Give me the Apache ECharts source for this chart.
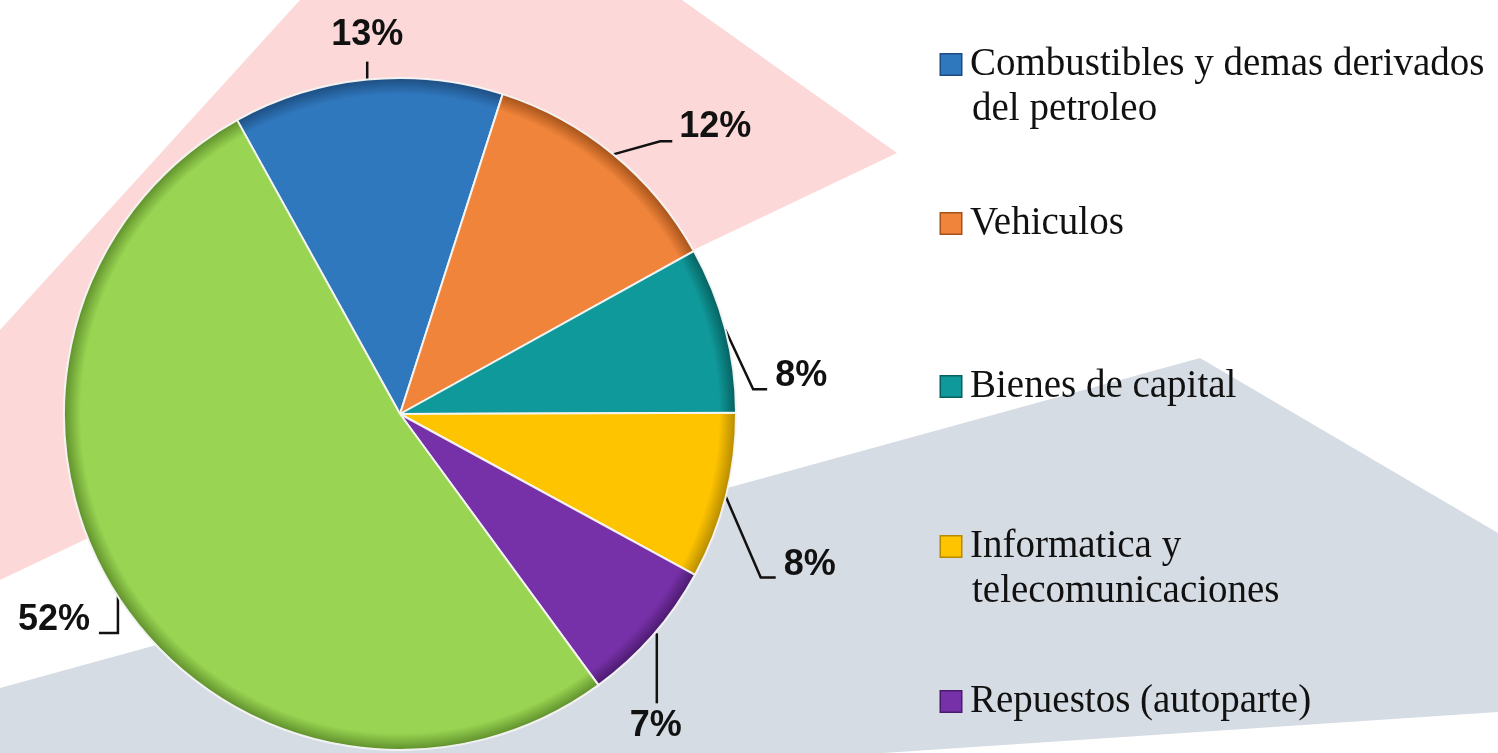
<!DOCTYPE html>
<html>
<head>
<meta charset="utf-8">
<script src="https://cdn.jsdelivr.net/npm/echarts@6/dist/echarts.min.js"></script>
<style>
  html, body { margin: 0; padding: 0; background: #fff; }
  #chart { width: 1498px; height: 753px; }
</style>
</head>
<body>
<div id="chart"></div>
<script>
// data
const categories = [
  'Combustibles y demas derivados\ndel petroleo',
  'Vehiculos',
  'Bienes de capital',
  'Informatica y\ntelecomunicaciones',
  'Repuestos (autoparte)',
  'Otros'
];
const shares = [13, 12, 8, 8, 7, 52];
const legendNames = categories.slice(0, 5);

const colors = ['#3078be', '#f0843a', '#10999a', '#fec400', '#7731a8', '#99d552'];
const darks = ['#1d4d80', '#a4521b', '#06605f', '#b58a00', '#4a1a6d', '#5f8f2c'];

// label line geometry, relative to the slice anchor on the rim
// [start dx, start dy, elbow dx, elbow dy, end dx, end dy, text dx, text dy, align]
const labelGeo = [
  [0, 0, 0, -18, 0, -18, 0, -45, 'center'],
  [0, 0, 47, -13, 59, -13, 66, -27, 'left'],
  [0, 0, 28, 60, 42, 60, 50, 47, 'left'],
  [0, 0, 35, 81, 50, 81, 58, 69, 'left'],
  [4, -2, 4, 68, 4, 68, 3, 91, 'center'],
  [1, 0, 1, 38, -18, 38, -27, 25, 'right']
];

const cx = 400, cy = 414, R = 336;

const chart = echarts.init(document.getElementById('chart'));

const rich = {
  s: { width: 22, height: 22 },
  t: { fontFamily: '"Liberation Serif", "Times New Roman", serif', fontSize: 39, color: '#111', lineHeight: 45, padding: [0, 0, 0, 9] }
};
colors.forEach((c, i) => {
  rich['m' + i] = {
    width: 20, height: 20, backgroundColor: c,
    borderColor: darks[i], borderWidth: 1.5
  };
});

const legendTops = [45, 204, 367, 527, 682];

chart.setOption({
  backgroundColor: '#ffffff',
  graphic: [
    {
      type: 'polygon', z: -10, silent: true,
      shape: { points: [[300, 0], [682, 0], [897, 153], [0, 580], [0, 330]] },
      style: { fill: '#fcd8d9' }
    },
    {
      type: 'polygon', z: -10, silent: true,
      shape: { points: [[0, 688], [1200, 358], [1498, 533], [1498, 712], [0, 812]] },
      style: { fill: '#d6dce4' }
    }
  ],
  legend: legendNames.map((name, i) => ({
    data: [name],
    orient: 'vertical',
    left: 936,
    top: legendTops[i],
    padding: 0,
    icon: 'none',
    itemWidth: 0,
    itemHeight: 0,
    selectedMode: false,
    formatter: n => {
      const k = categories.indexOf(n);
      const lines = n.split('\n');
      let s = '{m' + k + '|}{t|' + lines[0] + '}';
      if (lines[1]) s += '\n{s|}{t|' + lines[1] + '}';
      return s;
    },
    textStyle: { rich: rich }
  })),
  series: [{
    type: 'pie',
    center: [cx, cy],
    radius: R,
    startAngle: 119,
    clockwise: true,
    avoidLabelOverlap: false,
    animation: false,
    data: categories.map((name, i) => ({
      name: name,
      value: shares[i],
      itemStyle: {
        color: {
          type: 'radial', x: cx, y: cy, r: R, global: true,
          colorStops: [
            { offset: 0, color: colors[i] },
            { offset: 0.95, color: colors[i] },
            { offset: 1, color: darks[i] }
          ]
        }
      }
    })),
    itemStyle: {
      borderColor: 'rgba(245,245,245,0.95)',
      borderWidth: 2
    },
    label: {
      show: true,
      position: 'outside',
      formatter: p => Math.round(p.percent) + '%',
      fontFamily: '"Liberation Sans", Arial, sans-serif',
      fontWeight: 'bold',
      fontSize: 36,
      color: '#111'
    },
    labelLine: {
      show: true,
      length: 20,
      length2: 10,
      lineStyle: { color: '#111', width: 2.5 }
    },
    labelLayout: params => {
      const g = labelGeo[params.dataIndex];
      const p0 = params.labelLinePoints[0];
      return {
        x: p0[0] + g[6],
        y: p0[1] + g[7],
        align: g[8],
        verticalAlign: 'middle',
        labelLinePoints: [
          [p0[0] + g[0], p0[1] + g[1]],
          [p0[0] + g[2], p0[1] + g[3]],
          [p0[0] + g[4], p0[1] + g[5]]
        ]
      };
    }
  }]
});
</script>
</body>
</html>
